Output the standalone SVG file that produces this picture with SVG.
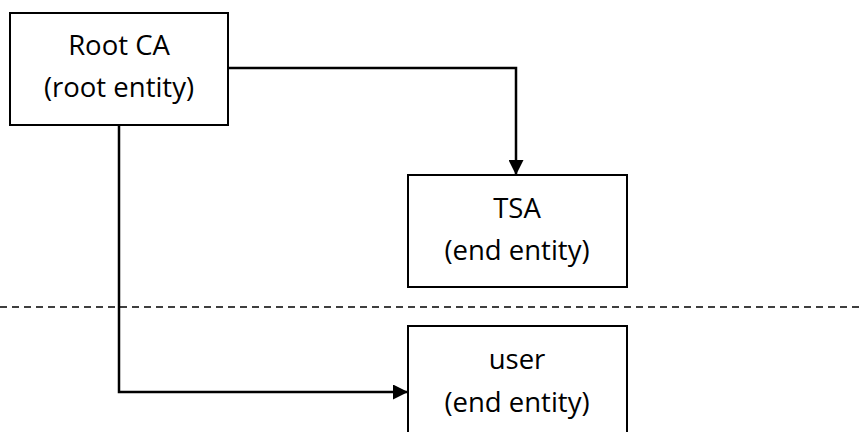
<svg xmlns="http://www.w3.org/2000/svg" width="861" height="432" viewBox="0 0 861 432">
<style>
.box{fill:#fff;stroke:#000;stroke-width:2}
.t{font-family:"Open Sans","Liberation Sans",sans-serif;font-size:27.5px;fill:#000;text-anchor:middle}
.c{fill:none;stroke:#000;stroke-width:2.5}
</style>
<defs>
<marker id="ah" markerWidth="15" markerHeight="15" refX="15" refY="7.5" orient="auto" markerUnits="userSpaceOnUse">
<path d="M0,0 L15,7.5 L0,15 Z" fill="#000"/>
</marker>
</defs>
<rect width="861" height="432" fill="#fff"/>
<line x1="0" y1="307" x2="861" y2="307" stroke="#000" stroke-width="1.3" stroke-dasharray="7,5"/>
<g id="connectors">
<path class="c" d="M228,68 H516 V175" marker-end="url(#ah)"/>
<path class="c" d="M119,125 V392 H408" marker-end="url(#ah)"/>
</g>
<g id="root">
<rect class="box" x="10" y="13" width="218" height="112"/>
<text class="t" x="119" y="55">Root CA</text>
<text class="t" x="119" y="97">(root entity)</text>
</g>
<g id="tsa">
<rect class="box" x="408" y="175" width="219" height="112"/>
<text class="t" x="517" y="218">TSA</text>
<text class="t" x="517" y="260">(end entity)</text>
</g>
<g id="user">
<rect class="box" x="408" y="326" width="219" height="112"/>
<text class="t" x="517" y="369">user</text>
<text class="t" x="517" y="412">(end entity)</text>
</g>
</svg>
